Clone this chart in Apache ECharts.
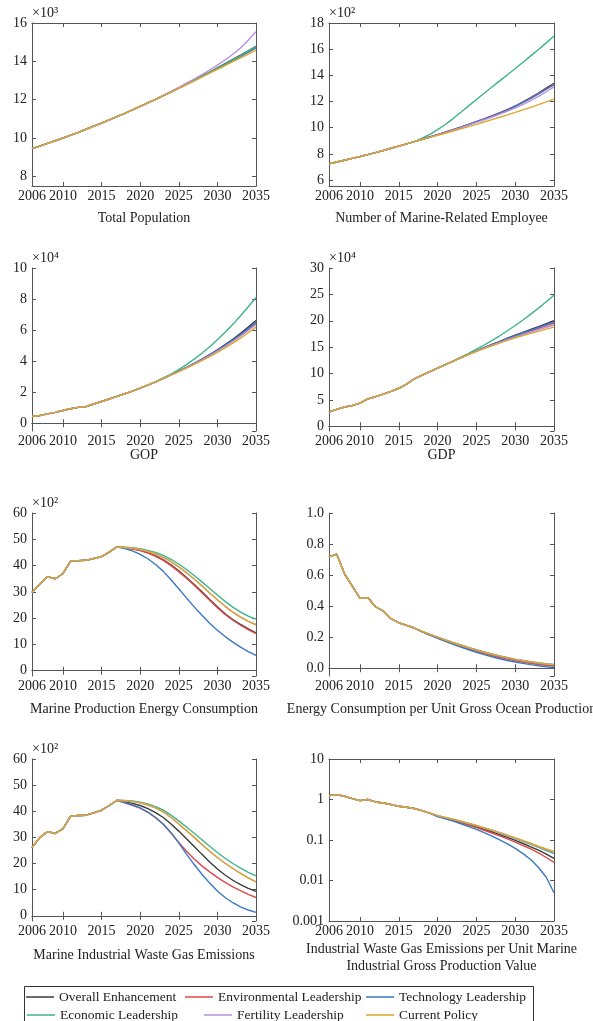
<!DOCTYPE html>
<html>
<head>
<meta charset="utf-8">
<script src="https://cdn.jsdelivr.net/npm/echarts@6/dist/echarts.min.js"></script>
<style>
  html, body { margin: 0; padding: 0; background: #fff; }
  #chart { width: 593px; height: 1021px; }
</style>
</head>
<body>
<div id="chart"></div>
<script>
// 年份
const years = [2006, 2007, 2008, 2009, 2010, 2011, 2012, 2013, 2014, 2015,
  2016, 2017, 2018, 2019, 2020, 2021, 2022, 2023, 2024, 2025,
  2026, 2027, 2028, 2029, 2030, 2031, 2032, 2033, 2034, 2035];

const scenarioNames = ['Overall Enhancement', 'Environmental Leadership', 'Technology Leadership',
  'Economic Leadership', 'Fertility Leadership', 'Current Policy'];

// Total Population (x10^3), shared 2006-2022
const popHist = [9.45, 9.58, 9.72, 9.86, 10.00, 10.15, 10.30, 10.46, 10.62, 10.78, 10.95, 11.12, 11.29, 11.47, 11.65, 11.83, 12.02];
const popOverall = [...popHist, 12.21, 12.41, 12.61, 12.81, 13.02, 13.23, 13.44, 13.66, 13.88, 14.10, 14.32, 14.55, 14.78];
const popEnv = [...popHist, 12.21, 12.40, 12.60, 12.80, 13.00, 13.21, 13.42, 13.63, 13.84, 14.05, 14.27, 14.49, 14.72];
const popTech = [...popHist, 12.21, 12.40, 12.60, 12.80, 13.00, 13.20, 13.41, 13.62, 13.83, 14.04, 14.26, 14.48, 14.70];
const popEcon = [...popHist, 12.21, 12.41, 12.61, 12.81, 13.01, 13.22, 13.43, 13.64, 13.86, 14.08, 14.30, 14.53, 14.76];
const popFert = [...popHist, 12.22, 12.43, 12.64, 12.86, 13.08, 13.31, 13.55, 13.80, 14.07, 14.37, 14.70, 15.10, 15.55];
const popCurrent = [...popHist, 12.21, 12.40, 12.59, 12.79, 12.98, 13.18, 13.38, 13.58, 13.78, 13.98, 14.18, 14.38, 14.58];

// Number of Marine-Related Employee (x10^2), shared 2006-2017
const empHist = [7.25, 7.38, 7.52, 7.66, 7.80, 7.95, 8.10, 8.26, 8.43, 8.60, 8.77, 8.94];
const empOverall = [...empHist, 9.12, 9.29, 9.47, 9.66, 9.85, 10.05, 10.26, 10.47, 10.68, 10.90, 11.13, 11.39, 11.66, 11.98, 12.30, 12.65, 13.02, 13.40];
const empEnv = [...empHist, 9.12, 9.29, 9.47, 9.66, 9.85, 10.05, 10.26, 10.47, 10.68, 10.90, 11.13, 11.38, 11.64, 11.95, 12.26, 12.60, 12.96, 13.33];
const empTech = [...empHist, 9.12, 9.29, 9.46, 9.65, 9.84, 10.04, 10.25, 10.46, 10.67, 10.89, 11.12, 11.37, 11.63, 11.94, 12.25, 12.58, 12.94, 13.30];
const empEcon = [...empHist, 9.20, 9.50, 9.85, 10.25, 10.70, 11.18, 11.67, 12.16, 12.64, 13.11, 13.58, 14.05, 14.52, 15.00, 15.49, 15.98, 16.48, 17.00];
const empFert = [...empHist, 9.11, 9.28, 9.45, 9.63, 9.82, 10.01, 10.21, 10.41, 10.61, 10.82, 11.04, 11.27, 11.51, 11.79, 12.08, 12.40, 12.75, 13.12];
const empCurrent = [...empHist, 9.10, 9.26, 9.42, 9.58, 9.75, 9.92, 10.09, 10.26, 10.44, 10.62, 10.80, 10.98, 11.17, 11.36, 11.56, 11.76, 11.97, 12.18];

// GOP (x10^4), shared 2006-2022
const gopHist = [0.43, 0.50, 0.60, 0.70, 0.82, 0.93, 1.02, 1.08, 1.24, 1.40, 1.56, 1.73, 1.90, 2.07, 2.26, 2.46, 2.67];
const gopOverall = [...gopHist, 2.89, 3.12, 3.36, 3.60, 3.86, 4.13, 4.42, 4.73, 5.06, 5.41, 5.79, 6.19, 6.62];
const gopEnv = [...gopHist, 2.89, 3.11, 3.35, 3.59, 3.84, 4.10, 4.38, 4.67, 4.98, 5.31, 5.66, 6.03, 6.42];
const gopTech = [...gopHist, 2.89, 3.12, 3.35, 3.59, 3.85, 4.12, 4.40, 4.70, 5.02, 5.36, 5.72, 6.10, 6.50];
const gopEcon = [...gopHist, 2.92, 3.17, 3.45, 3.78, 4.13, 4.51, 4.93, 5.38, 5.86, 6.37, 6.92, 7.50, 8.10];
const gopFert = [...gopHist, 2.88, 3.11, 3.34, 3.58, 3.83, 4.09, 4.36, 4.65, 4.96, 5.28, 5.62, 5.98, 6.36];
const gopCurrent = [...gopHist, 2.88, 3.10, 3.32, 3.55, 3.79, 4.03, 4.29, 4.56, 4.85, 5.16, 5.48, 5.83, 6.19];

// GDP (x10^4), shared 2006-2022
const gdpHist = [2.70, 3.20, 3.65, 3.90, 4.40, 5.20, 5.60, 6.10, 6.60, 7.20, 8.00, 9.00, 9.70, 10.35, 11.00, 11.70, 12.35];
const gdpOverall = [...gdpHist, 13.02, 13.65, 14.28, 14.90, 15.50, 16.10, 16.68, 17.25, 17.80, 18.35, 18.90, 19.45, 20.00];
const gdpEnv = [...gdpHist, 13.01, 13.62, 14.23, 14.82, 15.40, 15.96, 16.51, 17.05, 17.56, 18.06, 18.56, 19.06, 19.55];
const gdpTech = [...gdpHist, 13.02, 13.64, 14.26, 14.87, 15.46, 16.04, 16.61, 17.16, 17.70, 18.23, 18.76, 19.29, 19.80];
const gdpEcon = [...gdpHist, 13.10, 13.80, 14.60, 15.40, 16.25, 17.15, 18.10, 19.10, 20.15, 21.25, 22.40, 23.60, 24.85];
const gdpFert = [...gdpHist, 13.01, 13.62, 14.23, 14.80, 15.36, 15.90, 16.42, 16.93, 17.40, 17.86, 18.31, 18.76, 19.20];
const gdpCurrent = [...gdpHist, 13.00, 13.60, 14.20, 14.72, 15.25, 15.77, 16.27, 16.77, 17.19, 17.60, 18.00, 18.40, 18.80];

// Marine Production Energy Consumption (x10^2), shared 2006-2017
const enHist = [29.8, 32.9, 35.8, 35.0, 36.9, 41.7, 41.9, 42.0, 42.7, 43.4, 45.1, 47.1];
const enOverall = [...enHist, 46.8, 46.4, 45.8, 44.9, 43.7, 42.2, 40.3, 38.0, 35.5, 32.8, 30.0, 27.1, 24.3, 21.7, 19.5, 17.6, 15.9, 14.4];
const enEnv = [...enHist, 46.8, 46.3, 45.7, 44.8, 43.5, 42.0, 40.0, 37.7, 35.2, 32.5, 29.7, 26.8, 24.0, 21.4, 19.2, 17.3, 15.6, 14.1];
const enTech = [...enHist, 46.5, 45.6, 44.3, 42.6, 40.4, 37.8, 34.6, 31.2, 27.7, 24.3, 21.1, 18.1, 15.4, 13.0, 10.9, 9.0, 7.3, 5.8];
const enEcon = [...enHist, 47.0, 46.8, 46.4, 45.8, 45.0, 43.9, 42.4, 40.6, 38.5, 36.2, 33.8, 31.3, 28.8, 26.4, 24.2, 22.3, 20.8, 19.6];
const enFert = [...enHist, 46.9, 46.6, 46.1, 45.4, 44.4, 43.1, 41.5, 39.5, 37.3, 34.9, 32.3, 29.6, 27.0, 24.5, 22.3, 20.4, 18.8, 17.6];
const enCurrent = [...enHist, 46.9, 46.6, 46.1, 45.4, 44.4, 43.1, 41.5, 39.5, 37.3, 34.9, 32.3, 29.6, 27.0, 24.5, 22.3, 20.4, 18.8, 17.4];

// Energy Consumption per Unit Gross Ocean Production, shared 2006-2017
const intHist = [0.717, 0.735, 0.608, 0.529, 0.450, 0.454, 0.396, 0.368, 0.319, 0.293, 0.276, 0.259];
const intOverall = [...intHist, 0.236, 0.215, 0.196, 0.177, 0.159, 0.142, 0.126, 0.111, 0.097, 0.084, 0.072, 0.061, 0.051, 0.042, 0.034, 0.027, 0.021, 0.016];
const intEnv = [...intHist, 0.236, 0.215, 0.196, 0.177, 0.159, 0.142, 0.125, 0.110, 0.096, 0.083, 0.071, 0.060, 0.050, 0.041, 0.033, 0.026, 0.020, 0.015];
const intTech = [...intHist, 0.235, 0.213, 0.193, 0.173, 0.154, 0.136, 0.119, 0.103, 0.088, 0.074, 0.061, 0.050, 0.040, 0.031, 0.023, 0.016, 0.010, 0.005];
const intEcon = [...intHist, 0.237, 0.219, 0.201, 0.183, 0.166, 0.150, 0.134, 0.119, 0.105, 0.092, 0.080, 0.069, 0.059, 0.050, 0.042, 0.035, 0.029, 0.024];
const intFert = [...intHist, 0.237, 0.218, 0.200, 0.182, 0.164, 0.148, 0.132, 0.117, 0.103, 0.090, 0.078, 0.067, 0.057, 0.048, 0.040, 0.033, 0.027, 0.022];
const intCurrent = [...intHist, 0.237, 0.218, 0.200, 0.182, 0.164, 0.148, 0.132, 0.117, 0.103, 0.090, 0.078, 0.067, 0.057, 0.048, 0.040, 0.033, 0.027, 0.022];

// Marine Industrial Waste Gas Emissions (x10^2), shared 2006-2017
const gasHist = [26.1, 29.9, 32.2, 31.5, 33.3, 38.1, 38.4, 38.5, 39.4, 40.4, 42.2, 44.2];
const gasOverall = [...gasHist, 43.6, 43.0, 42.2, 41.0, 39.5, 37.6, 35.1, 32.4, 29.5, 26.5, 23.5, 20.6, 17.9, 15.6, 13.6, 11.9, 10.5, 9.3];
const gasEnv = [...gasHist, 43.2, 42.3, 41.2, 39.6, 37.5, 35.0, 31.7, 28.1, 24.7, 21.7, 19.1, 16.8, 14.7, 12.8, 11.1, 9.6, 8.2, 7.0];
const gasTech = [...gasHist, 43.3, 42.4, 41.3, 39.7, 37.6, 35.0, 31.8, 27.9, 23.6, 19.6, 15.9, 12.5, 9.5, 7.0, 5.0, 3.4, 2.2, 1.3];
const gasEcon = [...gasHist, 44.1, 43.9, 43.5, 42.8, 41.8, 40.4, 38.5, 36.3, 34.0, 31.6, 29.1, 26.6, 24.2, 22.0, 20.0, 18.2, 16.6, 15.3];
const gasFert = [...gasHist, 44.0, 43.7, 43.2, 42.4, 41.3, 39.8, 37.6, 35.1, 32.6, 30.0, 27.3, 24.7, 22.3, 20.1, 18.1, 16.2, 14.5, 13.0];
const gasCurrent = [...gasHist, 44.0, 43.7, 43.2, 42.4, 41.3, 39.8, 37.6, 35.1, 32.6, 30.0, 27.3, 24.7, 22.3, 20.1, 18.1, 16.2, 14.5, 13.0];

// Industrial Waste Gas Emissions per Unit Marine Industrial Gross Production Value (log), shared 2006-2019
const perHist = [1.25, 1.32, 1.20, 1.05, 0.94, 1.00, 0.87, 0.82, 0.75, 0.68, 0.645, 0.60, 0.53, 0.46];
const perOverall = [...perHist, 0.390, 0.350, 0.310, 0.275, 0.240, 0.210, 0.183, 0.158, 0.136, 0.116, 0.098, 0.082, 0.068, 0.056, 0.045, 0.035];
const perEnv = [...perHist, 0.385, 0.345, 0.305, 0.268, 0.233, 0.202, 0.174, 0.149, 0.127, 0.107, 0.089, 0.073, 0.060, 0.048, 0.037, 0.028];
const perTech = [...perHist, 0.380, 0.335, 0.292, 0.252, 0.215, 0.182, 0.152, 0.125, 0.101, 0.080, 0.062, 0.046, 0.033, 0.021, 0.012, 0.005];
const perEcon = [...perHist, 0.400, 0.358, 0.322, 0.287, 0.255, 0.225, 0.197, 0.172, 0.149, 0.128, 0.109, 0.092, 0.078, 0.066, 0.055, 0.046];
const perFert = [...perHist, 0.400, 0.360, 0.324, 0.289, 0.257, 0.227, 0.199, 0.174, 0.151, 0.130, 0.111, 0.095, 0.081, 0.068, 0.058, 0.050];
const perCurrent = [...perHist, 0.400, 0.360, 0.325, 0.290, 0.258, 0.228, 0.200, 0.175, 0.152, 0.132, 0.113, 0.097, 0.083, 0.070, 0.060, 0.052];

const FONT = "'Liberation Serif', 'Times New Roman', serif";
const TEXT = '#222';
const AXIS = '#555';
const scenarioColors = ['#3b3b3b', '#e0474c', '#3a78c3', '#3db38c', '#b48ee0', '#dfa62c'];

// 面板: 标题 / 指数 / 纵轴范围
const panels = [
  { title: 'Total Population', unit: '×10³', min: 7.5, max: 16,
    lines: [popOverall, popEnv, popTech, popEcon, popFert, popCurrent] },
  { title: 'Number of Marine-Related Employee', unit: '×10²', min: 5.55, max: 18,
    lines: [empOverall, empEnv, empTech, empEcon, empFert, empCurrent] },
  { title: 'GOP', unit: '×10⁴', min: -0.5, max: 10,
    lines: [gopOverall, gopEnv, gopTech, gopEcon, gopFert, gopCurrent] },
  { title: 'GDP', unit: '×10⁴', min: -0.9, max: 30,
    lines: [gdpOverall, gdpEnv, gdpTech, gdpEcon, gdpFert, gdpCurrent] },
  { title: 'Marine Production Energy Consumption', unit: '×10²', min: -2, max: 60,
    lines: [enOverall, enEnv, enTech, enEcon, enFert, enCurrent] },
  { title: 'Energy Consumption per Unit Gross Ocean Production', unit: '', min: -0.05, max: 1,
    fmt: (v) => v.toFixed(1),
    lines: [intOverall, intEnv, intTech, intEcon, intFert, intCurrent] },
  { title: 'Marine Industrial Waste Gas Emissions', unit: '×10²', min: -2, max: 60,
    lines: [gasOverall, gasEnv, gasTech, gasEcon, gasFert, gasCurrent] },
  { title: 'Industrial Waste Gas Emissions per Unit Marine\nIndustrial Gross Production Value', unit: '', min: 0.001, max: 10, log: true,
    lines: [perOverall, perEnv, perTech, perEcon, perFert, perCurrent] }
];

// 版面
const colLeft = [32, 329];
const colWidth = [224, 225];
const rowTop = [23, 268, 513, 759];
const rowHeight = [163, 163, 163, 162];
const titleCenterY = [218, 218, 455, 455, 709, 709, 955, 958];
const legendSpots = [[26, 990], [185, 990], [366, 990], [27, 1008], [204, 1008], [366, 1008]];

const grid = [];
const xAxis = [];
const yAxis = [];
const series = [];
const titles = [];

const axisLine = { show: true, lineStyle: { color: AXIS, width: 1 } };
const axisTick = { show: true, inside: true, length: 4, lineStyle: { color: AXIS, width: 1 } };
const noSplit = { show: false };

panels.forEach((p, i) => {
  const r = Math.floor(i / 2);
  const c = i % 2;
  grid.push({
    left: colLeft[c], top: rowTop[r], width: colWidth[c], height: rowHeight[r],
    containLabel: false, outerBoundsMode: 'none'
  });

  xAxis.push({
    type: 'value', gridIndex: i, position: 'bottom', min: 2006, max: 2035,
    axisLine, axisTick, splitLine: noSplit,
    axisLabel: {
      color: TEXT, fontFamily: FONT, fontSize: 14, margin: 3,
      showMinLabel: true, showMaxLabel: true, hideOverlap: false,
      formatter: (v) => String(v)
    }
  });
  xAxis.push({
    type: 'value', gridIndex: i, position: 'top', min: 2006, max: 2035,
    axisLine, axisTick, splitLine: noSplit, axisLabel: { show: false }
  });

  const yType = p.log ? 'log' : 'value';
  yAxis.push({
    type: yType, gridIndex: i, position: 'left', min: p.min, max: p.max,
    axisLine, axisTick, splitLine: noSplit,
    axisLabel: {
      color: TEXT, fontFamily: FONT, fontSize: 14, margin: 5,
      showMinLabel: !!p.log, showMaxLabel: true, formatter: p.fmt
    },
    name: p.unit, nameLocation: 'end', nameGap: 3, nameMoveOverlap: false,
    nameTextStyle: { color: TEXT, fontFamily: FONT, fontSize: 14, align: 'left', verticalAlign: 'bottom' }
  });
  yAxis.push({
    type: yType, gridIndex: i, position: 'right', min: p.min, max: p.max,
    axisLine, axisTick, splitLine: noSplit, axisLabel: { show: false }
  });

  // 子图标题
  titles.push({
    type: 'text', silent: true,
    x: colLeft[c] + colWidth[c] / 2,
    y: titleCenterY[i],
    style: {
      text: p.title, fill: TEXT, font: '14px ' + FONT,
      align: 'center', verticalAlign: 'middle', lineHeight: 17
    }
  });

  p.lines.forEach((vals, k) => {
    series.push({
      type: 'line',
      name: scenarioNames[k],
      xAxisIndex: 2 * i,
      yAxisIndex: 2 * i,
      data: years.map((yr, j) => [yr, vals[j]]),
      symbol: 'none',
      showSymbol: false,
      clip: true,
      lineStyle: { color: scenarioColors[k], width: 1.4 },
      itemStyle: { color: scenarioColors[k] },
      emphasis: { disabled: true },
      z: 2 + k
    });
  });
});

const legend = scenarioNames.map((n, k) => ({
  data: [n],
  left: legendSpots[k][0],
  top: legendSpots[k][1],
  padding: 0,
  icon: 'rect',
  itemWidth: 28,
  itemHeight: 1.5,
  selectedMode: false,
  textStyle: { color: TEXT, fontFamily: FONT, fontSize: 13.5 }
}));

const chart = echarts.init(document.getElementById('chart'), null, { renderer: 'canvas' });
chart.setOption({
  backgroundColor: '#fff',
  animation: false,
  grid,
  xAxis,
  yAxis,
  legend,
  series,
  graphic: [
    ...titles,
    {
      type: 'rect', silent: true,
      shape: { x: 24.5, y: 986.5, width: 509, height: 60 },
      style: { fill: 'none', stroke: '#333', lineWidth: 1 }
    }
  ]
});
</script>
</body>
</html>
